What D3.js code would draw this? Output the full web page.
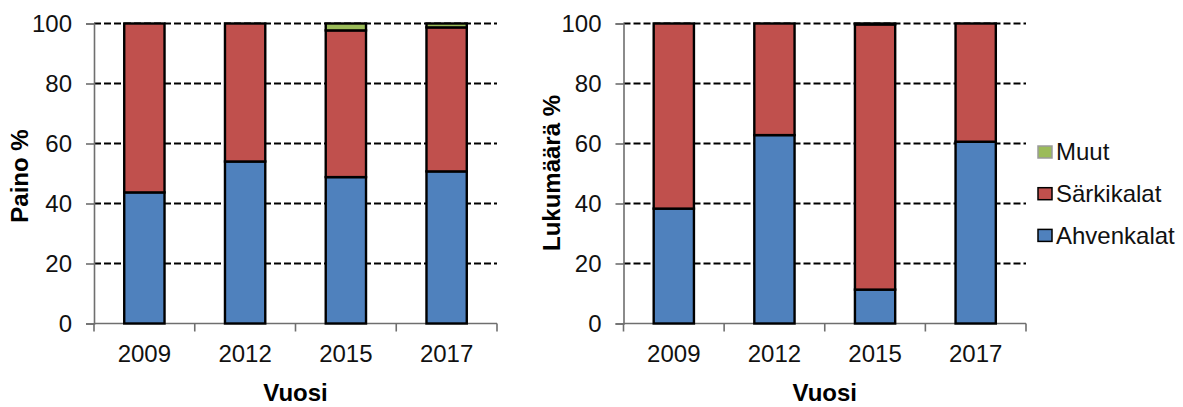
<!DOCTYPE html>
<html>
<head>
<meta charset="utf-8">
<script src="https://cdn.jsdelivr.net/npm/d3@7"></script>
<style>
  html, body { margin: 0; padding: 0; background: #fff; }
  svg { display: block; font-family: "Liberation Sans", Arial, sans-serif; }
</style>
</head>
<body>
<svg id="chart" width="1183" height="407"></svg>
<script>
// Survey years
const years = ["2009", "2012", "2015", "2017"];
// Species groups, bottom to top of each stack
const groups = ["Ahvenkalat", "Särkikalat", "Muut"];
const groupColors = ["#4F81BD", "#C0504D", "#9BBB59"];

// Share of catch by weight (%)
const painoAhvenkalat = [43.7, 54.0, 48.8, 50.7];
const painoSarkikalat = [56.3, 46.0, 48.9, 48.0];
const painoMuut       = [0.0, 0.0, 2.3, 1.3];

// Share of catch by count (%)
const lukuAhvenkalat = [38.3, 62.8, 11.3, 60.6];
const lukuSarkikalat = [61.7, 37.2, 88.4, 39.4];
const lukuMuut       = [0.0, 0.0, 0.3, 0.0];

const yTicks = [0, 20, 40, 60, 80, 100];

const svg = d3.select("#chart");

function drawPanel(opts) {
  const { left, right, top, bottom, title, series } = opts;
  const g = svg.append("g");

  const x = d3.scaleBand().domain(years).range([left, right])
    .paddingInner(0.6).paddingOuter(0.3);
  const y = d3.scaleLinear().domain([0, 100]).range([bottom, top]);
  const step = x.step();

  // dashed gridlines
  g.append("g").selectAll("line")
    .data(yTicks.filter(d => d > 0))
    .join("line")
    .attr("x1", left).attr("x2", right)
    .attr("y1", d => y(d)).attr("y2", d => y(d))
    .attr("stroke", "#000").attr("stroke-width", 1.8)
    .attr("stroke-dasharray", "7,3");

  // y axis
  const yAxis = g.append("g").attr("transform", `translate(${left},0)`)
    .call(d3.axisLeft(y).tickValues(yTicks).tickSize(8).tickPadding(14));
  yAxis.select(".domain").attr("stroke", "#6f6f6f").attr("stroke-width", 1.6);
  yAxis.selectAll(".tick line").attr("stroke", "#6f6f6f").attr("stroke-width", 1.6);
  yAxis.selectAll(".tick text").attr("font-size", 24).attr("fill", "#111")
    .attr("font-family", "Liberation Sans, Arial, sans-serif");

  // x axis: baseline with ticks between categories
  const xg = g.append("g");
  xg.append("line").attr("x1", left).attr("x2", right)
    .attr("y1", bottom).attr("y2", bottom)
    .attr("stroke", "#6f6f6f").attr("stroke-width", 1.6);
  const tickPos = years.map(yr => x(yr) + x.bandwidth() / 2 - step / 2).concat([right]);
  xg.selectAll("line.xt").data(tickPos).join("line").attr("class", "xt")
    .attr("x1", d => d).attr("x2", d => d)
    .attr("y1", bottom).attr("y2", bottom + 8)
    .attr("stroke", "#6f6f6f").attr("stroke-width", 1.6);
  xg.selectAll("text").data(years).join("text")
    .attr("x", d => x(d) + x.bandwidth() / 2)
    .attr("y", bottom + 38)
    .attr("text-anchor", "middle")
    .attr("font-size", 24).attr("fill", "#111")
    .text(d => d);

  // stacked bars, drawn over the axes
  const rows = years.map((yr, i) => {
    const r = { year: yr };
    groups.forEach((k, j) => r[k] = series[j][i]);
    return r;
  });
  const stacked = d3.stack().keys(groups)(rows);
  g.append("g").selectAll("g")
    .data(stacked)
    .join("g")
    .attr("fill", (d, i) => groupColors[i])
    .selectAll("rect")
    .data(d => d.filter(s => s[1] - s[0] > 0))
    .join("rect")
    .attr("x", d => x(d.data.year))
    .attr("width", x.bandwidth())
    .attr("y", d => y(d[1]))
    .attr("height", d => y(d[0]) - y(d[1]))
    .attr("stroke", "#000").attr("stroke-width", 2.4);

  // axis titles
  g.append("text")
    .attr("x", (left + right) / 2).attr("y", 401)
    .attr("text-anchor", "middle")
    .attr("font-size", 24).attr("font-weight", "bold")
    .text("Vuosi");
  g.append("text")
    .attr("transform", `translate(${opts.titleX},${opts.titleY}) rotate(-90)`)
    .attr("text-anchor", "middle")
    .attr("font-size", 24).attr("font-weight", "bold")
    .text(title);
}

drawPanel({
  left: 94, right: 497, top: 23.5, bottom: 323.5,
  title: "Paino %", titleX: 28, titleY: 176,
  series: [painoAhvenkalat, painoSarkikalat, painoMuut]
});
drawPanel({
  left: 623.5, right: 1026, top: 23.5, bottom: 323.5,
  title: "Lukumäärä %", titleX: 560, titleY: 173,
  series: [lukuAhvenkalat, lukuSarkikalat, lukuMuut]
});

// legend, top entry first
const legendOrder = [2, 1, 0];
const legend = svg.append("g");
const lg = legend.selectAll("g").data(legendOrder).join("g")
  .attr("transform", (d, i) => `translate(1038,${152 + i * 41.7})`);
lg.append("rect")
  .attr("x", 0).attr("y", -6).attr("width", 14).attr("height", 12)
  .attr("fill", d => groupColors[d])
  .attr("stroke", d => d === 2 ? "#9a9a9a" : "#000").attr("stroke-width", 1.5);
lg.append("text")
  .attr("x", 18).attr("y", 0).attr("dy", "0.35em")
  .attr("font-size", 24).attr("fill", "#111")
  .text(d => groups[d]);
</script>
</body>
</html>
